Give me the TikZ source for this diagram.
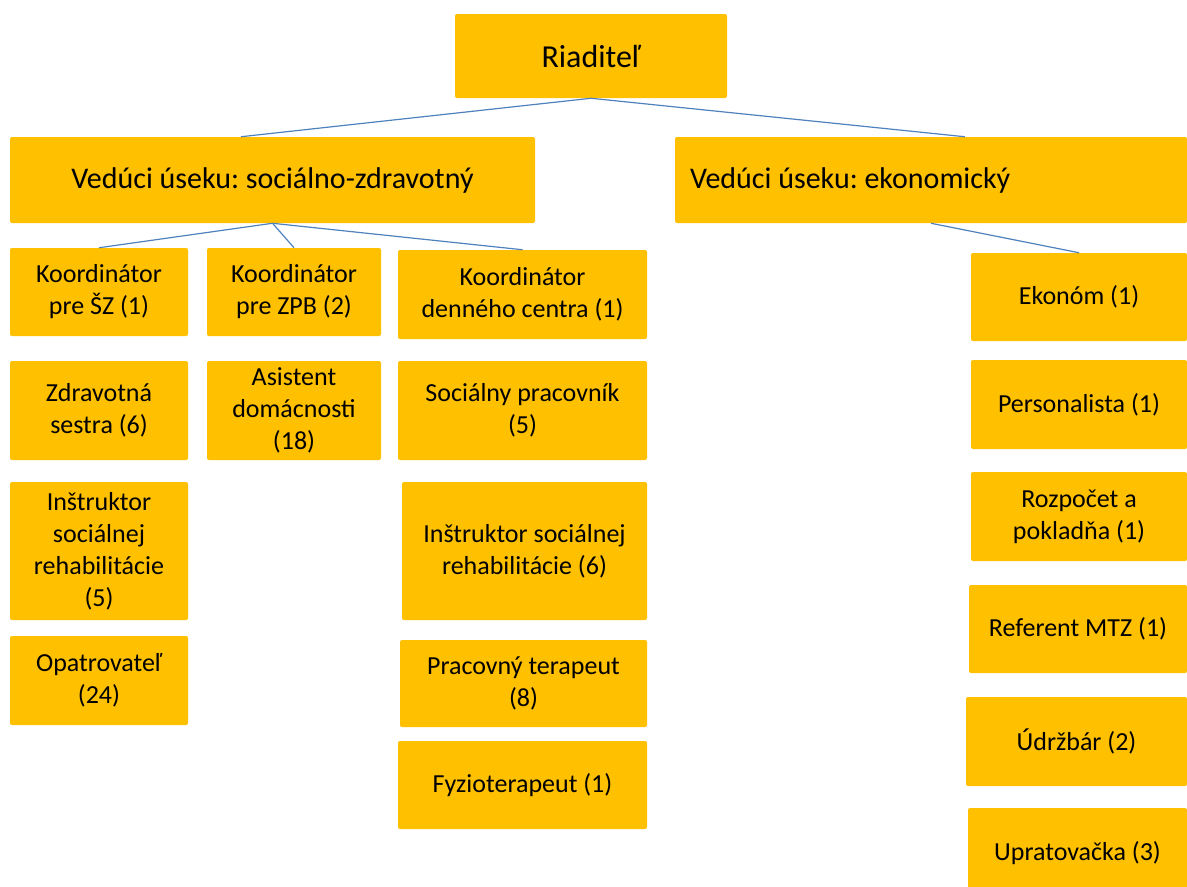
\documentclass[tikz,border=0pt]{standalone}
\usepackage{fontspec}
\setmainfont{Carlito}
\frenchspacing
\usetikzlibrary{calc}
\definecolor{boxgold}{RGB}{255,192,0}
\definecolor{linkblue}{RGB}{79,129,189}

\begin{document}
\begin{tikzpicture}[x = 0.75pt, y = -0.75pt,
  box/.style 2 args = {fill = boxgold, rounded corners = 1.5pt, inner sep = 0pt, align = center,
    minimum width = {#1*0.75pt}, minimum height = {#2*0.75pt},
    font = \fontsize{19.5pt}{24pt}\selectfont},
  head/.style = {font = \fontsize{22.5pt}{27pt}\selectfont},
  link/.style = {linkblue, line width = 0.9pt}]
\useasboundingbox (0,0) rectangle (1187,886);
\node[box = {272}{84}, font = \fontsize{24pt}{29pt}\selectfont] (rdt) at (591,56) {Riaditeľ};
\node[box = {525}{86}, head] (soc) at (272.5,180) {Vedúci úseku: sociálno-zdravotný};
\node[box = {512}{86}, head, text width = 482*0.75pt, align = flush left, inner xsep = 11.25pt] (eko) at (931,180) {Vedúci úseku: ekonomický};
\node[box = {178}{88}] (kSZ) at (99,292) {Koordinátor\\pre ŠZ (1)};
\node[box = {178}{99}] (zdr) at (99,410.5) {Zdravotná\\sestra (6)};
\node[box = {178}{138}] (insA) at (99,551) {Inštruktor\\sociálnej\\rehabilitácie\\(5)};
\node[box = {178}{89}] (opa) at (99,680.5) {Opatrovateľ\\(24)};
\node[box = {174}{88}] (kZPB) at (294,292) {Koordinátor\\pre ZPB (2)};
\node[box = {174}{99}] (asi) at (294,410.5) {Asistent\\domácnosti\\(18)};
\node[box = {249}{89}] (kDC) at (522.5,294.5) {Koordinátor\\denného centra (1)};
\node[box = {249}{99}] (soP) at (522.5,410.5) {Sociálny pracovník\\(5)};
\node[box = {245}{138}] (insB) at (524.5,551) {Inštruktor sociálnej\\rehabilitácie (6)};
\node[box = {247}{87}] (prT) at (523.5,683.5) {Pracovný terapeut\\(8)};
\node[box = {249}{88}] (fyz) at (522.5,785) {Fyzioterapeut (1)};
\node[box = {216}{88}] (ekn) at (1079,297) {Ekonóm (1)};
\node[box = {216}{89}] (per) at (1079,404.5) {Personalista (1)};
\node[box = {216}{89}] (roz) at (1079,516.5) {Rozpočet a\\pokladňa (1)};
\node[box = {218}{88}] (mtz) at (1078,629) {Referent MTZ (1)};
\node[box = {221}{89}] (udr) at (1076.5,741.5) {Údržbár (2)};
\node[box = {219}{90}] (upr) at (1077.5,853) {Upratovačka (3)};
\draw[link] (rdt.south) -- ($(soc.north west)!0.44!(soc.north east)$);
\draw[link] (rdt.south) -- ($(eko.north west)!0.566!(eko.north east)$);
\draw[link] (soc.south) -- (kSZ.north);
\draw[link] (soc.south) -- (kZPB.north);
\draw[link] (soc.south) -- (kDC.north);
\draw[link] (eko.south) -- (ekn.north);
\end{tikzpicture}
\end{document}
